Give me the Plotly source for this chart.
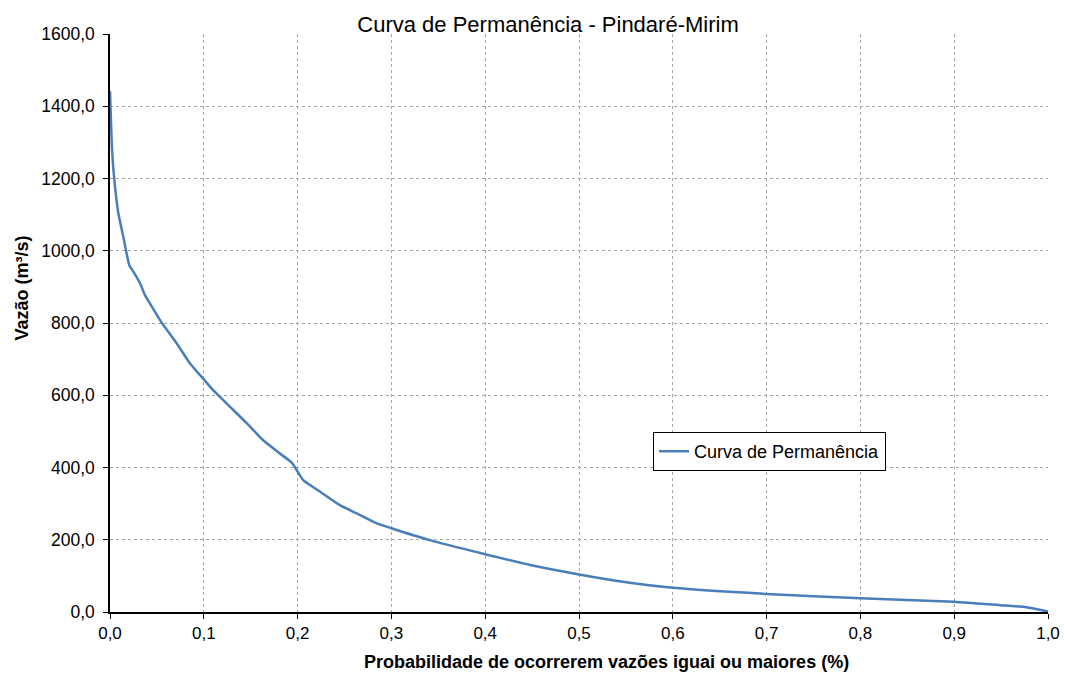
import plotly.graph_objects as go

prob = [0, 0.001, 0.002, 0.0043, 0.0089, 0.0149, 0.0171, 0.0206, 0.0249, 0.032,
        0.0373, 0.0426, 0.0551, 0.071, 0.0853, 0.100, 0.110, 0.117, 0.128, 0.146,
        0.163, 0.181, 0.194, 0.199, 0.206, 0.224, 0.245, 0.263, 0.284, 0.300,
        0.341, 0.400, 0.448, 0.500, 0.554, 0.600, 0.700, 0.800, 0.900, 0.949,
        0.977, 1.0]
vazao = [1442, 1362, 1290, 1205, 1104, 1030, 1000, 960, 942, 910,
         877, 854, 801, 744, 688, 644, 614, 596, 568, 522,
         476, 439, 413, 393, 365, 333, 296, 273, 246, 232,
         199, 160, 130, 104, 81, 67, 50, 38, 28.6, 19,
         13, 1]

x_ticks = [0, 0.1, 0.2, 0.3, 0.4, 0.5, 0.6, 0.7, 0.8, 0.9, 1.0]
y_ticks = [0, 200, 400, 600, 800, 1000, 1200, 1400, 1600]

# full-window figure; the page's default body margin is removed below
W, H = 1065, 675
L, T = 110, 34
PW, PH = 938, 578

fig = go.Figure()
fig.add_trace(go.Scatter(x=prob, y=vazao, mode="lines", name="Curva de Permanência",
                         line=dict(color="#4a7ebb", width=2.5, shape="spline", smoothing=0.5)))

font = "Liberation Sans, Arial, sans-serif"
fig.update_layout(
    width=W, height=H,
    margin=dict(l=L, r=W - L - PW, t=T, b=H - T - PH, autoexpand=False),
    paper_bgcolor="white", plot_bgcolor="white",
    separators=",.",
    font=dict(family=font, size=17, color="black"),
    title=dict(text="Curva de Permanência - Pindaré-Mirim", x=548 / W, xanchor="center",
               y=1 - 24 / H, yanchor="middle", font=dict(size=22, family=font, color="black")),
    showlegend=True,
    legend=dict(x=(653 - L) / PW, y=(PH + T - 432) / PH, xanchor="left", yanchor="top",
                bordercolor="black", borderwidth=1, bgcolor="white",
                font=dict(size=18, family=font, color="black"), tracegroupgap=0,
                itemwidth=30),
    xaxis=dict(range=[0, 1], tickvals=x_ticks, tickformat=".1f", automargin=False,
               showline=True, linecolor="black", linewidth=1.5,
               ticks="outside", ticklen=5, tickcolor="black", ticklabeloverflow="allow",
               showgrid=True, gridcolor="#a6a6a6", griddash="dot", gridwidth=1,
               zeroline=False, tickfont=dict(size=17)),
    yaxis=dict(range=[0, 1600], tickvals=y_ticks, tickformat=".1f", automargin=False,
               showline=True, linecolor="black", linewidth=1.5,
               ticks="outside", ticklen=5, tickcolor="black", ticklabelstandoff=5,
               showgrid=True, gridcolor="#a6a6a6", griddash="dot", gridwidth=1,
               zeroline=False, tickfont=dict(size=17.5)),
    annotations=[
        dict(text="<b>Probabilidade de ocorrerem vazões iguai ou maiores (%)</b>",
             xref="paper", yref="paper", x=(606.5 - L) / PW, y=(PH + T - 662) / PH,
             xanchor="center", yanchor="middle", showarrow=False,
             font=dict(size=18, family=font, color="black")),
        dict(text="<b>Vazão (m³/s)</b>", textangle=-90,
             xref="paper", yref="paper", x=(21.5 - L) / PW, y=(PH + T - 288) / PH,
             xanchor="center", yanchor="middle", showarrow=False,
             font=dict(size=18, family=font, color="black")),
    ],
)
fig.write_html("out.html", config={"displayModeBar": False},
               post_script="document.body.style.margin='0';document.body.style.overflow='hidden';")
